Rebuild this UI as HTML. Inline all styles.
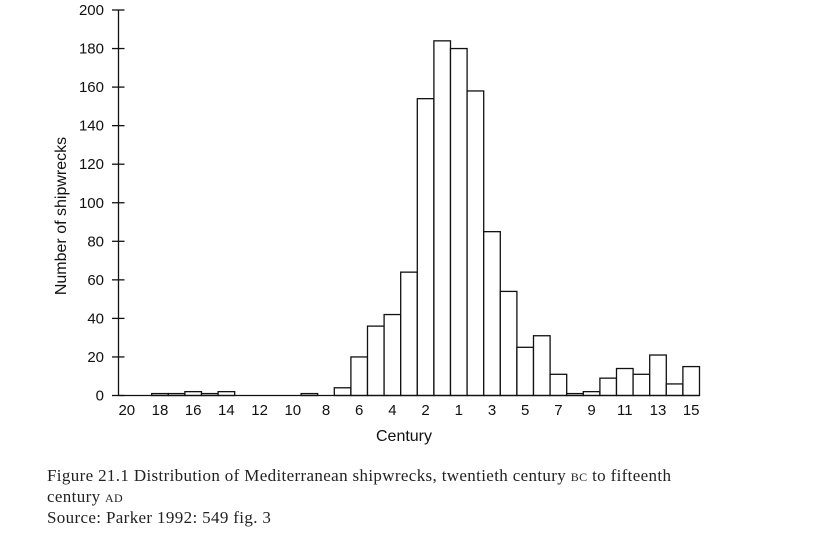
<!DOCTYPE html>
<html><head><meta charset="utf-8"><style>
body{margin:0;background:#fff;width:815px;height:536px;overflow:hidden}
svg text{font-family:"Liberation Sans",sans-serif;fill:#111}
.cap{position:absolute;left:47px;top:465px;font-family:"Liberation Serif",serif;font-size:17px;letter-spacing:0.35px;line-height:21px;color:#222;width:760px;white-space:nowrap}
.sc{font-variant:small-caps;text-transform:lowercase}
</style></head><body>
<svg id="chart" width="815" height="460" style="position:absolute;left:0;top:0"></svg>
<div class="cap">Figure 21.1 Distribution of Mediterranean shipwrecks, twentieth century <span class="sc">BC</span> to fifteenth<br>century <span class="sc">AD</span><br>Source: Parker 1992: 549 fig. 3</div>
<script>
const categories=["20","19","18","17","16","15","14","13","12","11","10","9","8","7","6","5","4","3","2","1","1","2","3","4","5","6","7","8","9","10","11","12","13","14","15"];
const counts=[0,0,1,1,2,1,2,0,0,0,0,1,0,4,20,36,42,64,154,184,180,158,85,54,25,31,11,1,2,9,14,11,21,6,15];
const yTicks=[0,20,40,60,80,100,120,140,160,180,200];
const showLabel=[1,0,1,0,1,0,1,0,1,0,1,0,1,0,1,0,1,0,1,0,1,0,1,0,1,0,1,0,1,0,1,0,1,0,1];
const NS="http://www.w3.org/2000/svg";
const svg=document.getElementById('chart');
const x0=118.5,bw=16.6,y0=395.5,yTop=10;
const y=v=>y0-(v/200)*(y0-yTop);
const xb=i=>x0+i*bw;
function mk(t,a){const e=document.createElementNS(NS,t);for(const k in a)e.setAttribute(k,a[k]);svg.appendChild(e);return e;}
counts.forEach((v,i)=>{
 if(v<=0)return;
 const r=mk('rect',{x:xb(i),y:y(v),width:bw,height:y0-y(v),fill:'#fff',stroke:'#111','stroke-width':1.3});
 
 
});
const ax=mk('line',{x1:x0,y1:yTop,x2:x0,y2:y0,stroke:'#111','stroke-width':1.3});


const bx=mk('line',{x1:x0,y1:y0,x2:xb(categories.length),y2:y0,stroke:'#111','stroke-width':1.3});


yTicks.forEach(t=>{
 const l=mk('line',{x1:x0-6.5,x2:x0+6,y1:y(t),y2:y(t),stroke:'#111','stroke-width':1.3});
 
 
 const tx=mk('text',{x:104,y:y(t)+5,'text-anchor':'end','font-size':15});
 tx.textContent=t;
 
 
});
categories.forEach((c,i)=>{
 if(!showLabel[i])return;
 const tx=mk('text',{x:xb(i)+bw/2,y:415,'text-anchor':'middle','font-size':15});
 tx.textContent=c;
 
 
});
const xt=mk('text',{x:404,y:441,'text-anchor':'middle','font-size':16});
xt.textContent='Century';


const yt=mk('text',{x:0,y:0,'text-anchor':'middle','font-size':16,transform:'translate(66,216) rotate(-90)'});
yt.textContent='Number of shipwrecks';


</script>
</body></html>
